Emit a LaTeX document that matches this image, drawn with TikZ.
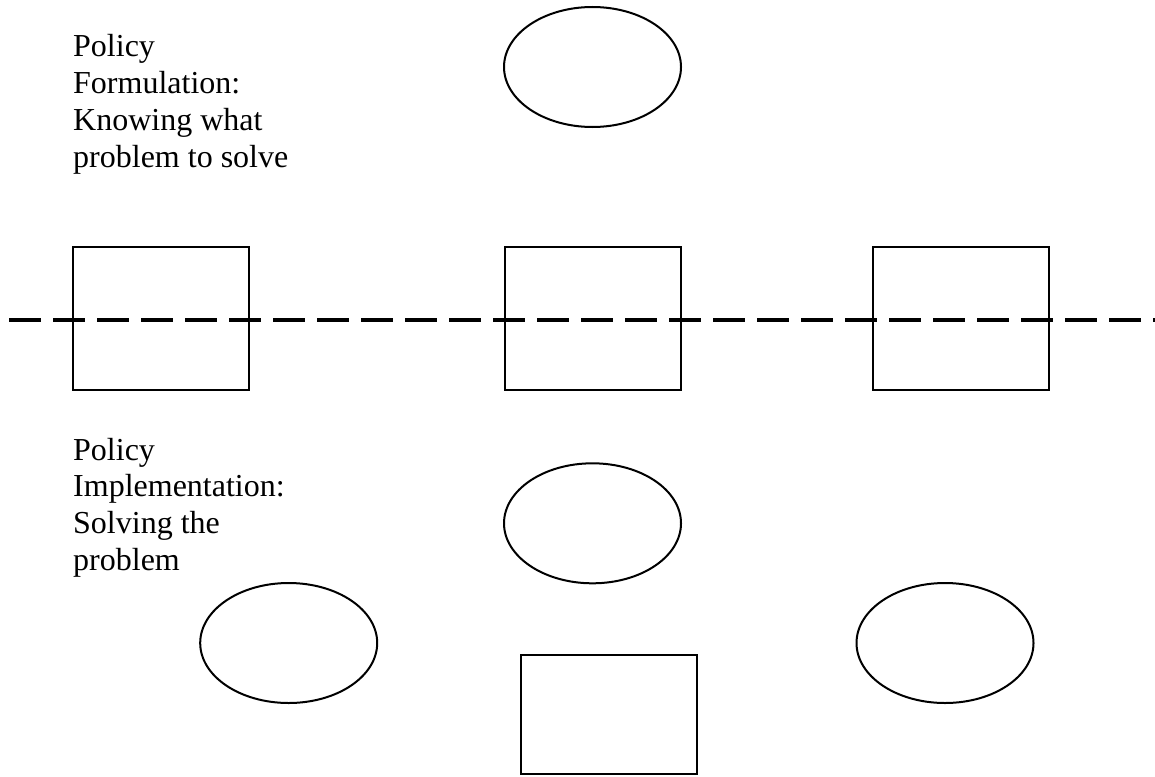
\documentclass[tikz,border=0pt]{standalone}
\usepackage{fontspec}
\setmainfont{Liberation Serif}
\usetikzlibrary{shapes.geometric}

\tikzset{
  oval/.style={draw=black, line width=2pt, ellipse, inner sep=0pt,
               minimum width=177pt, minimum height=120pt},
  stepbox/.style={draw=black, line width=2pt, rectangle, inner sep=0pt,
                  minimum width=176pt, minimum height=143pt},
  % the base anchor of a multi-line node sits on its last line
  caption/.style={anchor=base west, inner sep=0pt, align=left,
                  font=\fontsize{32}{36.8}\selectfont},
  divider/.style={line width=3.5pt, dash pattern=on 32pt off 12pt}
}

\begin{document}
\begin{tikzpicture}[x=1pt, y=-1pt]
  \useasboundingbox (0,0) rectangle (1155,776);

  % labels for the two halves
  \node[caption] (formulation) at (73,167.1)
    {Policy\\Formulation:\\Knowing what\\problem to solve};
  \node[caption] (implementation) at (73,570.4)
    {Policy\\Implementation:\\Solving the\\problem};

  % formulation side
  \node[oval] (topoval) at (592.5,67) {};

  % boxes straddling the divide
  \node[stepbox] (boxleft)  at (161,318.5) {};
  \node[stepbox] (boxmid)   at (593,318.5) {};
  \node[stepbox] (boxright) at (961,318.5) {};

  % dividing line between formulation and implementation
  \coordinate (divstart) at (9,320);
  \coordinate (divend) at (1155,320);
  \draw[divider] (divstart) -- (divend);

  % implementation side
  \node[oval] (midoval)   at (592.5,523.3) {};
  \node[oval] (leftoval)  at (288.7,643) {};
  \node[oval] (rightoval) at (945,643) {};
  \node[stepbox, minimum height=119pt] (boxbottom) at (609,714.5) {};
\end{tikzpicture}
\end{document}
